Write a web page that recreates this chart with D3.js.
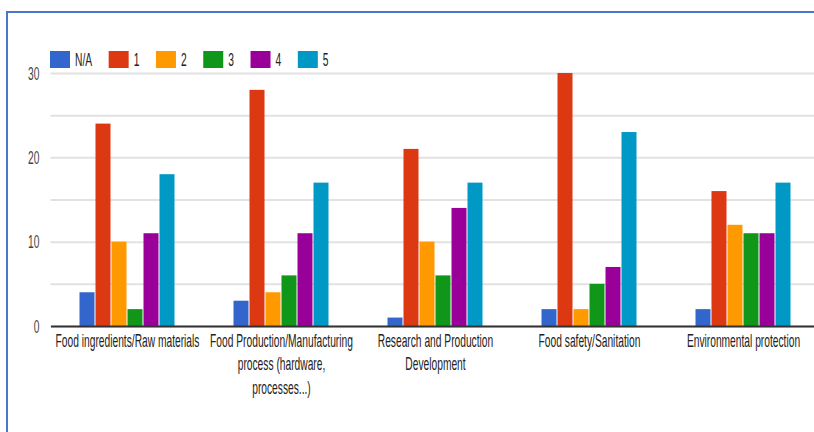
<!DOCTYPE html>
<html>
<head>
<meta charset="utf-8">
<script src="https://cdn.jsdelivr.net/npm/d3@7"></script>
<style>
  html, body { margin: 0; padding: 0; background: #fff; }
  svg { display: block; }
  text { font-family: "Liberation Sans", Arial, sans-serif; }
</style>
</head>
<body>
<svg id="chart" width="814" height="432"></svg>
<script>
// Survey answers per topic (rating N/A and 1..5)
const categories = [
  "Food ingredients/Raw materials",
  "Food Production/Manufacturing process (hardware, processes...)",
  "Research and Production Development",
  "Food safety/Sanitation",
  "Environmental protection"
];
const categoryLines = [
  ["Food ingredients/Raw materials"],
  ["Food Production/Manufacturing", "process (hardware,", "processes...)"],
  ["Research and Production", "Development"],
  ["Food safety/Sanitation"],
  ["Environmental protection"]
];
const seriesNames = ["N/A", "1", "2", "3", "4", "5"];
const seriesColors = ["#3366cc", "#dc3912", "#ff9900", "#109618", "#990099", "#0099c6"];

const naValues    = [4, 3, 1, 2, 2];
const oneValues   = [24, 28, 21, 30, 16];
const twoValues   = [10, 4, 10, 2, 12];
const threeValues = [2, 6, 6, 5, 11];
const fourValues  = [11, 11, 14, 7, 11];
const fiveValues  = [18, 17, 17, 23, 17];

const yTickLabels = [0, 10, 20, 30];
const yGridValues = [0, 5, 10, 15, 20, 25, 30];

const seriesValues = [naValues, oneValues, twoValues, threeValues, fourValues, fiveValues];

// layout
const svg = d3.select("#chart");
const plotLeft = 50.5, plotRight = 820.5, plotTop = 73, plotBottom = 326;
const fontSize = 17.5, squeeze = 0.585;

// frame
svg.append("rect")
  .attr("x", 7).attr("y", 12)
  .attr("width", 830).attr("height", 440)
  .attr("fill", "none")
  .attr("stroke", "#4a78c8")
  .attr("stroke-width", 2);

const x0 = d3.scaleBand()
  .domain(categories)
  .range([plotLeft, plotRight])
  .paddingInner(1 - 96 / 154)
  .paddingOuter((1 - 96 / 154) / 2);

const x1 = d3.scaleBand()
  .domain(seriesNames)
  .range([0, x0.bandwidth()]);

const y = d3.scaleLinear().domain([0, 30]).range([plotBottom, plotTop]);

// gridlines
const grid = svg.append("g")
  .attr("transform", `translate(${plotLeft},0)`)
  .call(d3.axisLeft(y).tickValues(yGridValues).tickSize(-(plotRight - plotLeft)).tickFormat(""));
grid.select(".domain").remove();
grid.selectAll(".tick line").attr("stroke", "#e2e2e2").attr("stroke-width", 2);

// y labels
const yAxis = svg.append("g")
  .attr("transform", `translate(${plotLeft},0)`)
  .call(d3.axisLeft(y).tickValues(yTickLabels).tickSize(0).tickFormat(d3.format("d")));
yAxis.select(".domain").remove();
yAxis.selectAll(".tick text")
  .attr("x", 0)
  .attr("dy", "0.36em")
  .attr("transform", `translate(-11,0) scale(${squeeze},1)`)
  .attr("fill", "#444")
  .style("font-size", fontSize + "px");

// bars
const groups = svg.append("g").selectAll("g")
  .data(categories)
  .join("g")
  .attr("transform", d => `translate(${x0(d)},0)`);

groups.selectAll("rect")
  .data((d, i) => seriesNames.map((s, k) => ({ s, v: seriesValues[k][i], c: seriesColors[k] })))
  .join("rect")
  .attr("x", d => x1(d.s))
  .attr("y", d => y(d.v))
  .attr("width", x1.bandwidth() - 1)
  .attr("height", d => y(0) - y(d.v))
  .attr("fill", d => d.c);

// x axis
const xAxis = svg.append("g")
  .attr("transform", `translate(0,${plotBottom})`)
  .call(d3.axisBottom(x0).tickSize(0).tickSizeOuter(0));
xAxis.select(".domain").attr("stroke", "#333").attr("stroke-width", 2);
xAxis.selectAll(".tick text").each(function (d, i) {
  const t = d3.select(this);
  t.text(null)
    .attr("y", null).attr("dy", null)
    .attr("transform", `translate(0,20.5) scale(${squeeze},1)`)
    .attr("fill", "#222")
    .style("font-size", fontSize + "px");
  categoryLines[i].forEach((line, j) => {
    t.append("tspan").attr("x", 0).attr("dy", j === 0 ? 0 : 23.7).text(line);
  });
});

// legend
const legend = svg.append("g").attr("transform", "translate(50,51)");
let lx = 0;
seriesNames.forEach((name, k) => {
  const item = legend.append("g").attr("transform", `translate(${lx},0)`);
  item.append("rect").attr("width", 20).attr("height", 17).attr("fill", seriesColors[k]);
  const label = item.append("text")
    .attr("transform", `translate(25,14.7) scale(${squeeze},1)`)
    .attr("fill", "#222")
    .style("font-size", fontSize + "px")
    .text(name);
  lx += 25 + label.node().getComputedTextLength() * squeeze + 16.6;
});
</script>
</body>
</html>
